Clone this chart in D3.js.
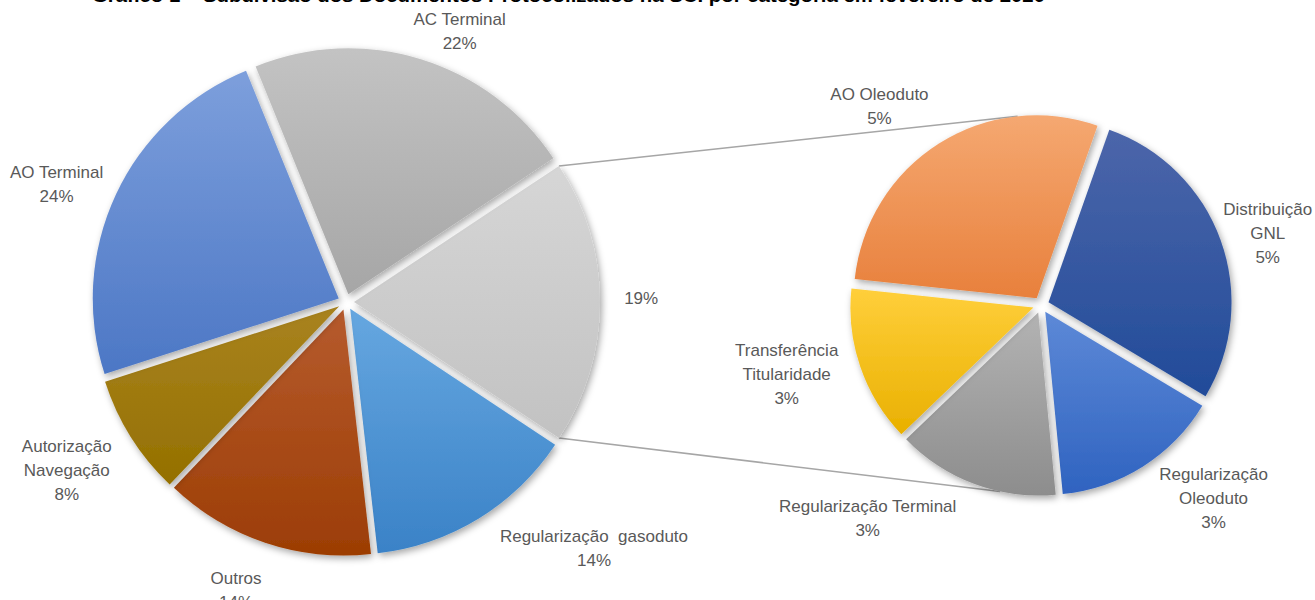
<!DOCTYPE html>
<html>
<head>
<meta charset="utf-8">
<script src="https://cdn.jsdelivr.net/npm/d3@7"></script>
<style>
  body { margin: 0; background: #fff; }
  svg { display: block; font-family: 'Liberation Sans', Arial, sans-serif; }
  text.lbl { white-space: pre; }
</style>
</head>
<body>
<svg id="chart" width="1315" height="600"></svg>
<script>
const title = 'Gráfico 1 – Subdivisão dos Documentos Protocolizados na SCI por categoria em fevereiro de 2020';

// primary pie, clockwise after the grouped slice
const primaryLabels = [['Regularização  gasoduto'], ['Outros'], ['Autorização', 'Navegação'], ['AO Terminal'], ['AC Terminal']];
const primaryValues = [14, 14, 8, 24, 22];

// secondary pie (the grouped slice), clockwise from top left
const secondaryLabels = [['AO Oleoduto'], ['Distribuição', 'GNL'], ['Regularização', 'Oleoduto'], ['Regularização Terminal'], ['Transferência', 'Titularidade']];
const secondaryValues = [5.4, 5.3, 2.8, 2.7, 2.6];

const draw = () => {
  let
    svg = d3.select('#chart'),
    defs = svg.append('defs'),
    deg = Math.PI / 180,
    explode = 8,
    lineH = 24,
    left = {cx: 346, cy: 302, r: 246},
    right = {cx: 1041, cy: 305, r: 183},
    otherValue = d3.sum(secondaryValues),
    total = d3.sum(primaryValues) + otherValue,
    pct = v => Math.round(v / total * 100) + '%',
    // gradient top / bottom per slice
    otherColors = ['#d6d6d6', '#c2c2c2'],
    primaryColors = [['#66a7e0', '#3a82c7'], ['#b65b2e', '#9c3d04'], ['#a9831f', '#947000'], ['#7d9fdc', '#4c77c5'], ['#c3c3c3', '#a6a6a6']],
    secondaryColors = [['#f5a871', '#e8803c'], ['#4c66aa', '#214b99'], ['#5d89d7', '#2f63c0'], ['#b3b3b3', '#8d8d8d'], ['#ffcf3b', '#e9b000']],
    // label placement: [radius factor, angle shift in degrees]
    primaryLabelPos = [[1.2, -0.8], [1.42, -13.8], [1.255, 2.3], [1.325, 1.1], [1.27, -2.9], [1.195, 5.6]],
    secondaryLabelPos = [[1.4, -6.8], [1.3, 2.2], [1.415, -9.5], [1.5, 18.8], [1.44, 3.7]],
    connectorAngles = [-6, 192]
    ;

  const shadow = defs.append('filter')
    .attr('id', 'shadow')
    .attr('x', '-20%').attr('y', '-20%')
    .attr('width', '140%').attr('height', '140%')
    ;
  shadow.append('feDropShadow')
    .attr('dx', 2).attr('dy', 3)
    .attr('stdDeviation', 3.5)
    .attr('flood-color', '#000')
    .attr('flood-opacity', 0.35)
    ;

  const gradient = (id, c) => {
    let g = defs.append('linearGradient')
      .attr('id', id)
      .attr('x1', 0).attr('y1', 0).attr('x2', 0).attr('y2', 1);
    g.append('stop').attr('offset', '0%').attr('stop-color', c[0]);
    g.append('stop').attr('offset', '100%').attr('stop-color', c[1]);
    return `url(#${id})`;
  };

  const polar = (a, r) => [Math.sin(a) * r, -Math.cos(a) * r];
  const mid = d => (d.startAngle + d.endAngle) / 2;

  const drawPie = (name, data, startAngle, geo, labelPos) => {
    let
      pie = d3.pie().sort(null).value(d => d.value)
        .startAngle(startAngle).endAngle(startAngle + 2 * Math.PI),
      arc = d3.arc().innerRadius(0).outerRadius(geo.r),
      arcs = pie(data),
      g = svg.append('g')
        .attr('class', name)
        .attr('transform', `translate(${geo.cx},${geo.cy})`)
      ;
    g.selectAll('path.slice')
      .data(arcs)
      .join('path')
      .attr('class', 'slice')
      .attr('transform', d => `translate(${polar(mid(d), explode)})`)
      .attr('d', arc)
      .attr('fill', (d, i) => gradient(`${name}-g${i}`, d.data.colors))
      .attr('filter', 'url(#shadow)')
      ;
    g.selectAll('text.lbl')
      .data(arcs)
      .join('text')
      .attr('class', 'lbl')
      .attr('text-anchor', 'middle')
      .attr('fill', '#595959')
      .style('font-size', '17px')
      .each((d, i, t) => {
        let
          p = labelPos[i],
          xy = polar(mid(d) + p[1] * deg, geo.r * p[0]),
          lines = d.data.label.concat([pct(d.value)]),
          y0 = xy[1] - (lines.length - 1) * lineH / 2 + 6
          ;
        d3.select(t[i]).selectAll('tspan')
          .data(lines)
          .join('tspan')
          .attr('x', xy[0])
          .attr('y', (l, j) => y0 + j * lineH)
          .text(l => l);
      })
      ;
    return arcs;
  };

  // connectors go under the pies
  let connectors = svg.append('g').attr('class', 'connectors');

  let
    otherSpan = otherValue / total * 2 * Math.PI,
    leftArcs = drawPie('primary',
      [{label: [], value: otherValue, colors: otherColors}]
        .concat(primaryValues.map((v, i) => ({label: primaryLabels[i], value: v, colors: primaryColors[i]}))),
      Math.PI / 2 - otherSpan / 2, left, primaryLabelPos),
    rightArcs = drawPie('secondary',
      secondaryValues.map((v, i) => ({label: secondaryLabels[i], value: v, colors: secondaryColors[i]})),
      -84 * deg, right, secondaryLabelPos)
    ;

  const norm = a => ((a % (2 * Math.PI)) + 2 * Math.PI) % (2 * Math.PI);

  let
    other = leftArcs[0],
    off = polar(mid(other), explode),
    from = [other.startAngle, other.endAngle].map(a => {
      let p = polar(a, left.r);
      return [left.cx + off[0] + p[0], left.cy + off[1] + p[1]];
    }),
    to = connectorAngles.map(a => {
      let
        ang = a * deg,
        s = rightArcs.find(d => norm(norm(ang) - norm(d.startAngle)) < d.endAngle - d.startAngle),
        o = polar(mid(s), explode),
        p = polar(ang, right.r)
        ;
      return [right.cx + o[0] + p[0], right.cy + o[1] + p[1]];
    })
    ;
  connectors.selectAll('line')
    .data([0, 1])
    .join('line')
    .attr('x1', i => from[i][0]).attr('y1', i => from[i][1])
    .attr('x2', i => to[i][0]).attr('y2', i => to[i][1])
    .attr('stroke', '#a6a6a6')
    .attr('stroke-width', 1.5)
    ;

  svg.append('text')
    .attr('x', 92)
    .attr('y', 2)
    .attr('textLength', 953)
    .attr('lengthAdjust', 'spacingAndGlyphs')
    .attr('fill', '#000')
    .style('font-size', '19px')
    .style('font-weight', 'bold')
    .text(title)
    ;
};

draw();
</script>
</body>
</html>
